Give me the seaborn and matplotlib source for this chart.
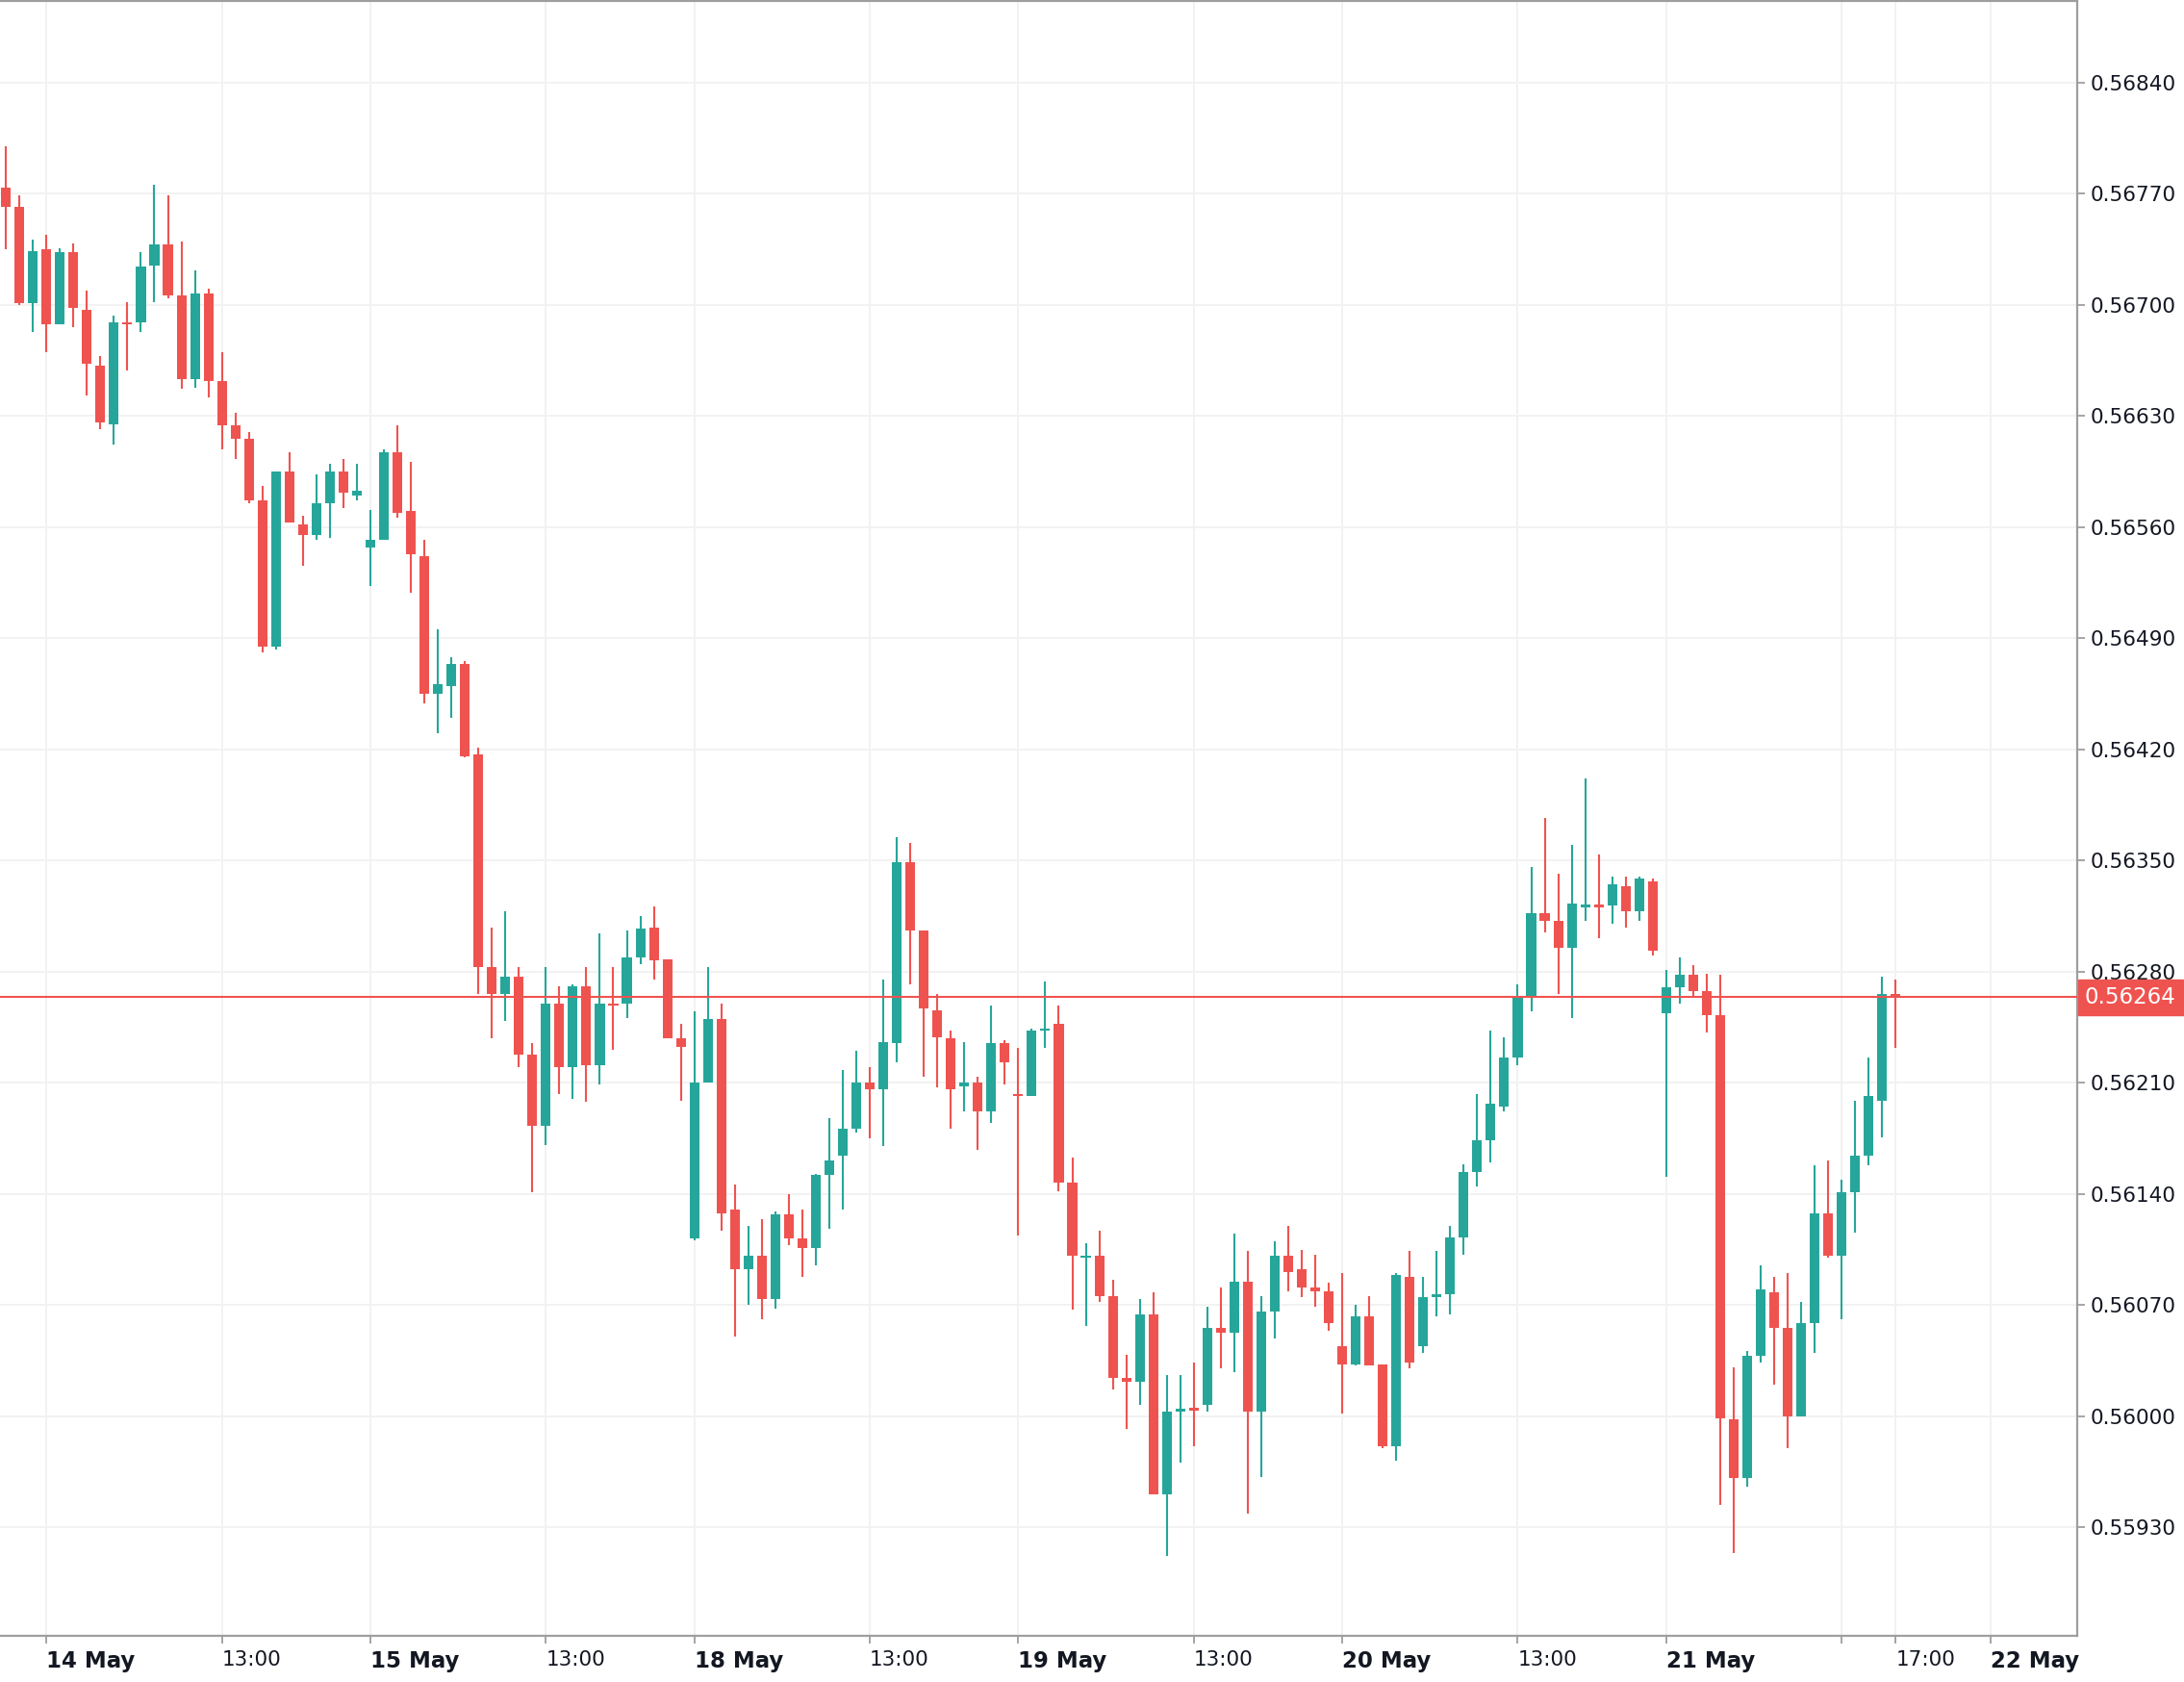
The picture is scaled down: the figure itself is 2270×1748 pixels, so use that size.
import numpy as np
import matplotlib
matplotlib.use("Agg")
import matplotlib.pyplot as plt
import seaborn as sns

# hourly candles, index 0 = 14 May 00:00 (weekends skipped)
HOUR_IDX = np.arange(-3, 138)

# prices in 1e-5 units (pipettes)
OPEN = [56774, 56762, 56701, 56735, 56688, 56733, 56697, 56662, 56625, 56689,
        56689, 56725, 56738, 56706, 56653, 56707, 56652, 56624, 56616, 56577,
        56485, 56595, 56562, 56555, 56575, 56595, 56580, 56547, 56552, 56607,
        56570, 56542, 56455, 56460, 56474, 56417, 56283, 56266, 56277, 56228,
        56183, 56260, 56220, 56271, 56221, 56260, 56260, 56289, 56308, 56288,
        56238, 56112, 56210, 56250, 56130, 56093, 56101, 56074, 56127, 56112,
        56106, 56152, 56164, 56181, 56210, 56206, 56235, 56349, 56306, 56256,
        56238, 56208, 56210, 56192, 56235, 56203, 56202, 56243, 56247, 56147,
        56100, 56101, 56076, 56024, 56022, 56064, 55951, 56003, 56005, 56007,
        56056, 56053, 56085, 56003, 56066, 56101, 56093, 56081, 56079, 56044,
        56033, 56063, 56033, 55981, 56088, 56044, 56075, 56077, 56113, 56154,
        56174, 56195, 56226, 56264, 56317, 56312, 56295, 56321, 56322, 56322,
        56334, 56318, 56337, 56254, 56270, 56278, 56268, 56253, 55998, 55961,
        56038, 56078, 56056, 56000, 56059, 56128, 56101, 56141, 56164, 56199,
        56266]
HIGH = [56800, 56769, 56741, 56744, 56736, 56739, 56709, 56668, 56693, 56702,
        56733, 56776, 56769, 56740, 56722, 56710, 56670, 56632, 56620, 56586,
        56595, 56607, 56567, 56593, 56600, 56603, 56600, 56571, 56609, 56624,
        56601, 56552, 56496, 56478, 56476, 56421, 56308, 56318, 56283, 56235,
        56283, 56271, 56272, 56283, 56304, 56283, 56306, 56315, 56321, 56288,
        56247, 56255, 56283, 56260, 56146, 56120, 56124, 56129, 56140, 56130,
        56153, 56188, 56218, 56230, 56220, 56275, 56365, 56361, 56306, 56266,
        56243, 56236, 56214, 56259, 56237, 56232, 56244, 56274, 56259, 56163,
        56109, 56117, 56086, 56039, 56074, 56078, 56026, 56026, 56034, 56069,
        56081, 56115, 56104, 56076, 56110, 56120, 56105, 56102, 56084, 56090,
        56070, 56076, 56033, 56090, 56104, 56088, 56104, 56120, 56159, 56203,
        56243, 56239, 56272, 56346, 56377, 56342, 56360, 56402, 56354, 56340,
        56340, 56340, 56339, 56281, 56289, 56284, 56279, 56278, 56031, 56041,
        56095, 56088, 56090, 56072, 56158, 56161, 56149, 56199, 56226, 56277,
        56275]
LOW = [56735, 56700, 56683, 56670, 56688, 56686, 56643, 56622, 56612, 56659,
       56683, 56702, 56704, 56647, 56648, 56642, 56609, 56603, 56575, 56481,
       56483, 56563, 56536, 56552, 56553, 56572, 56577, 56523, 56552, 56566,
       56519, 56449, 56430, 56440, 56415, 56266, 56238, 56249, 56220, 56141,
       56171, 56203, 56200, 56198, 56209, 56231, 56251, 56285, 56275, 56238,
       56199, 56111, 56210, 56117, 56050, 56070, 56061, 56068, 56108, 56088,
       56095, 56118, 56130, 56179, 56175, 56170, 56223, 56272, 56214, 56207,
       56181, 56192, 56168, 56185, 56209, 56114, 56202, 56232, 56142, 56067,
       56057, 56072, 56017, 55992, 56007, 55951, 55912, 55971, 55981, 56003,
       56030, 56028, 55939, 55962, 56049, 56079, 56075, 56069, 56054, 56002,
       56032, 56032, 55980, 55972, 56030, 56040, 56063, 56064, 56102, 56145,
       56160, 56192, 56221, 56255, 56305, 56266, 56251, 56312, 56301, 56310,
       56308, 56312, 56290, 56151, 56260, 56264, 56242, 55944, 55914, 55956,
       56034, 56020, 55980, 56000, 56040, 56100, 56061, 56116, 56158, 56176,
       56232]
CLOSE = [56762, 56701, 56734, 56688, 56733, 56698, 56663, 56626, 56689, 56688,
         56724, 56738, 56706, 56653, 56707, 56652, 56624, 56616, 56577, 56485,
         56595, 56563, 56555, 56575, 56595, 56582, 56583, 56552, 56607, 56569,
         56543, 56455, 56461, 56474, 56416, 56283, 56266, 56277, 56228, 56183,
         56260, 56220, 56271, 56221, 56260, 56259, 56289, 56307, 56287, 56238,
         56233, 56210, 56250, 56128, 56093, 56101, 56074, 56127, 56112, 56106,
         56152, 56161, 56181, 56210, 56206, 56236, 56349, 56306, 56257, 56239,
         56206, 56210, 56192, 56235, 56223, 56202, 56243, 56244, 56147, 56101,
         56101, 56076, 56024, 56022, 56064, 55951, 56003, 56005, 56004, 56056,
         56053, 56085, 56003, 56066, 56101, 56091, 56081, 56079, 56059, 56033,
         56063, 56032, 55981, 56089, 56034, 56075, 56077, 56113, 56154, 56174,
         56197, 56226, 56264, 56317, 56312, 56295, 56323, 56322, 56321, 56335,
         56318, 56339, 56293, 56270, 56278, 56268, 56253, 55999, 55961, 56038,
         56080, 56056, 56000, 56059, 56128, 56101, 56141, 56164, 56202, 56266,
         56264]

LAST_PRICE = 0.56264
PRICE_TICKS = [0.55930, 0.56000, 0.56070, 0.56140, 0.56210, 0.56280, 0.56350,
               0.56420, 0.56490, 0.56560, 0.56630, 0.56700, 0.56770, 0.56840]
TIME_TICKS = [0, 13, 24, 37, 48, 61, 72, 85, 96, 109, 120, 133, 137, 144]
TIME_LABELS = ["14 May", "13:00", "15 May", "13:00", "18 May", "13:00", "19 May",
               "13:00", "20 May", "13:00", "21 May", "", "17:00", "22 May"]

UP, DOWN = "#26a69a", "#ef5350"
GRID, SPINE, TXT = "#f2f2f2", "#9e9e9e", "#131722"

sns.set_theme(style="white")
plt.rcParams["font.family"] = ["DejaVu Sans"]

o = np.array(OPEN) / 1e5
h = np.array(HIGH) / 1e5
l = np.array(LOW) / 1e5
c = np.array(CLOSE) / 1e5
up = c >= o
cols = np.where(up, UP, DOWN)

fig = plt.figure(figsize=(22.7, 17.48), dpi=100)
fig.patch.set_facecolor("white")
ax = fig.add_axes([0.0, 0.02746, 0.9511, 0.9720])
ax.set_facecolor("white")

# wicks + bodies
ax.vlines(HOUR_IDX, l, h, colors=cols, lw=1.5, zorder=3)
body_lo = np.minimum(o, c)
body_h = np.abs(c - o)
min_h = 1.3e-5
body_lo = np.where(body_h < min_h, (o + c) / 2 - min_h / 2, body_lo)
body_h = np.maximum(body_h, min_h)
ax.bar(HOUR_IDX, body_h, bottom=body_lo, width=0.72, color=cols, lw=0, zorder=4)

# last price line + label
ax.axhline(LAST_PRICE, color=DOWN, lw=1.5, zorder=5)
ax.text(1.0 + 8 / 2159, LAST_PRICE, f"{LAST_PRICE:.5f}", transform=ax.get_yaxis_transform(),
        ha="left", va="center", color="white", fontsize=16.5, zorder=10, clip_on=False,
        bbox=dict(boxstyle="square,pad=0.3", fc=DOWN, ec=DOWN))

ax.set_xlim(-3.44, 150.45)
ax.set_ylim(0.558618, 0.568915)

ax.yaxis.tick_right()
ax.set_yticks(PRICE_TICKS)
ax.set_yticklabels([f"{p:.5f}" for p in PRICE_TICKS])
ax.set_xticks(TIME_TICKS)
ax.set_xticklabels(TIME_LABELS)
for lab, txt in zip(ax.get_xticklabels(), TIME_LABELS):
    lab.set_ha("left")
    lab.set_fontweight("bold" if "May" in txt else "normal")
    lab.set_fontsize(16.5 if "May" in txt else 15.5)

ax.tick_params(axis="y", which="major", right=True, left=False, length=6, width=1.3,
               color=SPINE, pad=4, labelsize=15.5, labelcolor=TXT)
ax.tick_params(axis="x", which="major", bottom=True, length=6, width=1.3,
               color=SPINE, pad=5, labelcolor=TXT)

ax.grid(True, color=GRID, lw=1.4, zorder=0)
ax.set_axisbelow(True)

ax.spines["left"].set_visible(False)
for s in ["top", "right", "bottom"]:
    ax.spines[s].set_color(SPINE)
    ax.spines[s].set_linewidth(1.6)

ax.set_xlabel("")
ax.set_ylabel("")

fig.savefig("out.png", dpi=100, facecolor="white")
